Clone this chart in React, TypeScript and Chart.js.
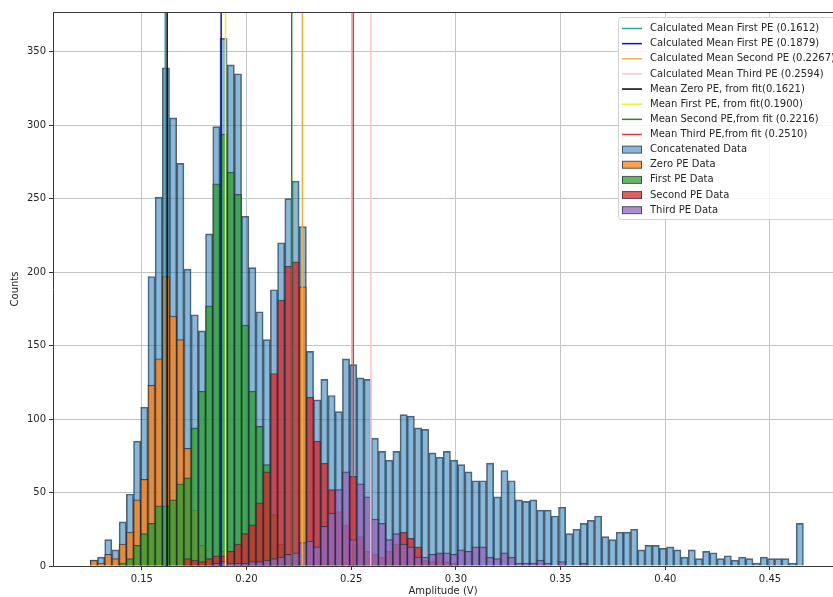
import React, { useEffect, useRef } from 'react';
import { Chart, registerables } from 'chart.js';

Chart.register(...registerables);

// ---- histogram bins (99 equal bins) ----
const BIN_START = 0.12541;
const BIN_WIDTH = 0.00344;

// ---- axis ranges / ticks ----
const X_MIN = 0.1076;
const X_MAX = 0.4801;
const Y_MAX = 377;
const X_TICKS = [0.15, 0.2, 0.25, 0.3, 0.35, 0.4, 0.45];
const Y_TICKS = [0, 50, 100, 150, 200, 250, 300, 350];

// ---- series (counts per bin) ----
const CONCATENATED = [
  4, 6, 18, 11, 30, 49, 85, 108, 197, 251,
  339, 305, 274, 202, 171, 160, 226, 299, 359, 341,
  335, 238, 203, 173, 154, 188, 220, 250, 262, 231,
  146, 113, 127, 116, 105, 141, 137, 128, 127, 87,
  78, 72, 78, 103, 102, 94, 93, 77, 74, 78,
  72, 69, 64, 58, 58, 70, 47, 65, 58, 45,
  44, 45, 38, 38, 34, 40, 22, 25, 29, 31,
  34, 20, 18, 23, 23, 25, 11, 14, 14, 12,
  13, 11, 6, 11, 5, 10, 9, 5, 7, 4,
  6, 5, 2, 6, 5, 5, 5, 2, 29,
];
const ZERO_PE = [
  4, 2, 8, 5, 15, 23, 45, 59, 123, 141,
  197, 170, 154, 80, 38, 14, 5, 3, 10, 0,
  0, 0, 0, 0, 0, 0, 0, 0, 0, 190,
];
const FIRST_PE = [
  0, 0, 0, 0, 2, 5, 14, 22, 29, 41,
  41, 45, 56, 60, 94, 119, 177, 260, 294, 268,
  253, 164, 119, 95, 69, 35, 15, 8, 4, 0,
];
const SECOND_PE = [
  0, 0, 0, 0, 0, 0, 0, 0, 0, 0,
  0, 0, 0, 5, 4, 3, 5, 7, 7, 10,
  15, 22, 28, 43, 64, 131, 181, 204, 207, 0,
  115, 85, 70, 52, 37, 28, 61, 20, 10, 8,
  6, 10, 15, 23, 19, 13, 4, 3, 8, 3,
  2,
];
const THIRD_PE = [
  0, 0, 0, 0, 0, 0, 0, 0, 0, 0,
  0, 0, 0, 0, 0, 0, 0, 2, 3, 2,
  2, 2, 3, 3, 4, 5, 6, 8, 9, 16,
  17, 13, 27, 36, 52, 64, 18, 56, 47, 32,
  29, 18, 22, 15, 13, 6, 6, 8, 9, 9,
  8, 11, 10, 13, 13, 6, 5, 9, 6, 2,
  2, 2, 4, 2, 0, 3, 0, 0, 2,
];

const BAR_SERIES = [CONCATENATED, ZERO_PE, FIRST_PE, SECOND_PE, THIRD_PE];
const BAR_LABELS = ['Concatenated Data', 'Zero PE Data', 'First PE Data', 'Second PE Data', 'Third PE Data'];
const BAR_FILLS = [
  'rgba(31,119,180,0.53)',
  'rgba(255,127,14,0.75)',
  'rgba(44,160,44,0.75)',
  'rgba(214,39,40,0.75)',
  'rgba(148,103,189,0.75)',
];
const BAR_EDGE = 'rgba(35,45,60,0.75)';

// ---- vertical mean lines ----
const LINE_LABELS = [
  'Calculated Mean First PE (0.1612)',
  'Calculated Mean First PE (0.1879)',
  'Calculated Mean Second PE (0.2267)',
  'Calculated Mean Third PE (0.2594)',
  'Mean Zero PE, from fit(0.1621)',
  'Mean First PE, from fit(0.1900)',
  'Mean Second PE,from fit (0.2216)',
  'Mean Third PE,from fit (0.2510)',
];
const LINE_VALUES = [0.1612, 0.1879, 0.2267, 0.2594, 0.1621, 0.19, 0.2216, 0.251];
const LINE_COLORS = ['#2aa3a3', '#1414a0', '#f0b040', '#f5c8ce', '#000000', '#f2ee30', '#2a8a2a', '#d83c3c'];

const FONT = "'DejaVu Sans', 'Liberation Sans', sans-serif";
const TEXT = '#262626';

const overlayPlugin = {
  id: 'overlay',
  afterDraw(chart: any) {
    const { ctx, chartArea } = chart;
    ctx.save();
    // top spine
    ctx.strokeStyle = '#3a3a3a';
    ctx.lineWidth = 1;
    ctx.beginPath();
    ctx.moveTo(chartArea.left, Math.round(chartArea.top) + 0.5);
    ctx.lineTo(chartArea.right, Math.round(chartArea.top) + 0.5);
    ctx.stroke();

    // legend frame
    const bx = 618.5, by = 17.5, bw = 240, bh = 202, r = 3;
    ctx.beginPath();
    ctx.moveTo(bx + r, by);
    ctx.lineTo(bx + bw - r, by);
    ctx.quadraticCurveTo(bx + bw, by, bx + bw, by + r);
    ctx.lineTo(bx + bw, by + bh - r);
    ctx.quadraticCurveTo(bx + bw, by + bh, bx + bw - r, by + bh);
    ctx.lineTo(bx + r, by + bh);
    ctx.quadraticCurveTo(bx, by + bh, bx, by + bh - r);
    ctx.lineTo(bx, by + r);
    ctx.quadraticCurveTo(bx, by, bx + r, by);
    ctx.closePath();
    ctx.fillStyle = 'rgba(255,255,255,0.82)';
    ctx.fill();
    ctx.strokeStyle = '#d2d2d2';
    ctx.stroke();

    ctx.font = `10px ${FONT}`;
    ctx.textBaseline = 'middle';
    ctx.textAlign = 'left';
    const rowH = 15.14;
    const y0 = 28.5;
    const sx = 622, sw = 20, tx = 650;
    LINE_LABELS.forEach((lab, i) => {
      const y = y0 + i * rowH;
      ctx.strokeStyle = LINE_COLORS[i];
      ctx.lineWidth = 1.5;
      ctx.beginPath();
      ctx.moveTo(sx, y);
      ctx.lineTo(sx + sw, y);
      ctx.stroke();
      ctx.fillStyle = TEXT;
      ctx.fillText(lab, tx, y);
    });
    BAR_LABELS.forEach((lab, j) => {
      const y = y0 + (LINE_LABELS.length + j) * rowH;
      ctx.fillStyle = BAR_FILLS[j];
      ctx.fillRect(sx, y - 3.5, sw, 7);
      ctx.strokeStyle = BAR_EDGE;
      ctx.lineWidth = 1;
      ctx.strokeRect(sx + 0.5, y - 3.5, sw - 1, 7);
      ctx.fillStyle = TEXT;
      ctx.fillText(lab, tx, y);
    });
    ctx.restore();
  },
};

export default function App() {
  const ref = useRef<HTMLCanvasElement | null>(null);

  useEffect(() => {
    document.body.style.margin = '0';
    document.body.style.overflow = 'hidden';
    const canvas = ref.current;
    if (!canvas) return;
    Chart.defaults.font.family = FONT;

    const lineDatasets = LINE_VALUES.map((v, i) => ({
      type: 'line' as const,
      label: LINE_LABELS[i],
      data: [{ x: v, y: 0 }, { x: v, y: Y_MAX }],
      borderColor: LINE_COLORS[i],
      borderWidth: 1.5,
      pointRadius: 0,
      fill: false,
      order: 0,
    }));

    const barDatasets = BAR_SERIES.map((series, k) => ({
      type: 'bar' as const,
      label: BAR_LABELS[k],
      data: series
        .map((v, i) => (v > 0 ? { x: BIN_START + (i + 0.5) * BIN_WIDTH, y: v } : null))
        .filter((p) => p !== null),
      backgroundColor: BAR_FILLS[k],
      borderColor: BAR_EDGE,
      borderWidth: 1,
      borderSkipped: 'start',
      grouped: false,
      barPercentage: 1,
      categoryPercentage: 1,
      order: 5 - k,
    }));

    const chart = new Chart(canvas, {
      type: 'bar',
      data: { datasets: [...lineDatasets, ...barDatasets] as any },
      options: {
        animation: false,
        responsive: false,
        layout: { padding: { top: 12, right: 0, left: 0, bottom: 0 } },
        plugins: {
          legend: { display: false },
          tooltip: { enabled: false },
        },
        scales: {
          x: {
            type: 'linear',
            min: X_MIN,
            max: X_MAX,
            offset: false,
            grid: { offset: false, color: '#c4c4c4', lineWidth: 1, tickLength: 4, tickColor: '#333333' },
            border: { color: '#3a3a3a', width: 1 },
            afterBuildTicks: (s: any) => {
              s.ticks = X_TICKS.map((v) => ({ value: v }));
            },
            afterFit: (s: any) => {
              s.height = 31;
            },
            ticks: {
              color: TEXT,
              font: { size: 10 },
              padding: 3,
              maxRotation: 0,
              autoSkip: false,
              callback: (v: any) => Number(v).toFixed(2),
            },
            title: {
              display: true,
              text: 'Amplitude (V)',
              color: TEXT,
              font: { size: 10 },
              padding: { top: 0, bottom: 0 },
            },
          },
          y: {
            type: 'linear',
            min: 0,
            max: Y_MAX,
            grid: { color: '#c4c4c4', lineWidth: 1, tickLength: 4, tickColor: '#333333' },
            border: { color: '#3a3a3a', width: 1 },
            afterBuildTicks: (s: any) => {
              s.ticks = Y_TICKS.map((v) => ({ value: v }));
            },
            afterFit: (s: any) => {
              s.width = 53;
            },
            ticks: {
              color: TEXT,
              font: { size: 10 },
              padding: 3,
              autoSkip: false,
              callback: (v: any) => String(v),
            },
            title: {
              display: true,
              text: 'Counts',
              color: TEXT,
              font: { size: 10 },
              padding: { top: 9, bottom: 0 },
            },
          },
        },
      } as any,
      plugins: [overlayPlugin],
    });

    return () => chart.destroy();
  }, []);

  return (
    <div style={{ width: 833, height: 597 }}>
      <canvas ref={ref} width={833} height={597} />
    </div>
  );
}
